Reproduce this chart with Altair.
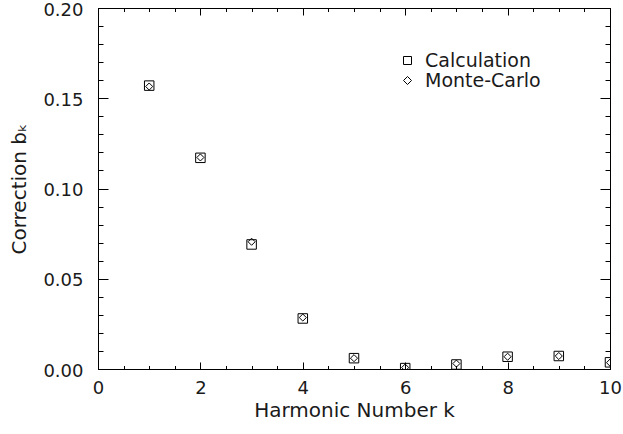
import altair as alt
import pandas as pd

# ---- data ----
k_values = [1, 2, 3, 4, 5, 6, 7, 8, 9, 10]
calc_values = [0.157, 0.117, 0.069, 0.028, 0.006, 0.0005, 0.0025, 0.0068, 0.0072, 0.0037]
mc_values = [0.1565, 0.1172, 0.0705, 0.0285, 0.006, 0.0008, 0.003, 0.0068, 0.0072, 0.0035]
series_names = ["Calculation", "Monte-Carlo"]

x_major = [0, 2, 4, 6, 8, 10]
x_minor = [i * 0.5 for i in range(21)]
y_major = [0.0, 0.05, 0.10, 0.15, 0.20]
y_minor = [i * 0.01 for i in range(21)]

calc_df = pd.DataFrame({"k": k_values, "b": calc_values, "series": series_names[0]})
mc_df = pd.DataFrame({"k": k_values, "b": mc_values, "series": series_names[1]})
all_df = pd.concat([calc_df, mc_df], ignore_index=True)

FONT = "DejaVu Sans"
FS = 18
TFS = 20
INK = "#000000"
TXT = "#1a1a1a"

xscale = alt.Scale(domain=[0, 10], nice=False, zero=False)
yscale = alt.Scale(domain=[0, 0.2], nice=False, zero=False)
shape_scale = alt.Scale(domain=series_names, range=["square", "diamond"])


def xaxis(orient, values, size, labels=False, title=None):
    kw = dict(orient=orient, values=values, tickSize=size, offset=-size, domain=False,
              grid=False, tickColor=INK, tickWidth=1, labels=labels)
    if labels:
        kw.update(labelFont=FONT, labelFontSize=FS, labelColor=TXT, labelPadding=10,
                  labelFlush=False, format="d", labelOverlap=False)
    if title:
        kw.update(title=title, titleFont=FONT, titleFontSize=TFS, titleFontWeight="normal",
                  titleColor=TXT, titlePadding=3)
    else:
        kw.update(title=None)
    return alt.Axis(**kw)


def yaxis(orient, values, size, labels=False, title=None):
    kw = dict(orient=orient, values=values, tickSize=size, offset=-size, domain=False,
              grid=False, tickColor=INK, tickWidth=1, labels=labels)
    if labels:
        kw.update(labelFont=FONT, labelFontSize=FS, labelColor=TXT, labelPadding=15,
                  labelFlush=False, format=".2f", labelOverlap=False, labelOffset=2)
    if title:
        kw.update(title=title, titleFont=FONT, titleFontSize=TFS, titleFontWeight="normal",
                  titleColor=TXT, titlePadding=13)
    else:
        kw.update(title=None)
    return alt.Axis(**kw)


legend = alt.Legend(
    title=None, orient="none", legendX=300, legendY=43,
    labelFont=FONT, labelFontSize=19, labelColor=TXT, labelOffset=8,
    symbolSize=64, symbolStrokeColor=INK, symbolStrokeWidth=1,
    symbolFillColor="transparent", rowPadding=0,
)

calc_layer = alt.Chart(calc_df).mark_point(
    filled=False, size=90, strokeWidth=1, color=INK, opacity=1, clip=True
).encode(
    x=alt.X("k:Q", scale=xscale, axis=xaxis("bottom", x_major, 7, labels=True, title="Harmonic Number k")),
    y=alt.Y("b:Q", scale=yscale, axis=yaxis("left", y_major, 10, labels=True, title="Correction bₖ")),
    shape=alt.Shape("series:N", scale=shape_scale, legend=legend),
)

mc_layer = alt.Chart(mc_df).mark_point(
    filled=False, size=50, strokeWidth=1, color=INK, opacity=1, clip=True
).encode(
    x=alt.X("k:Q", scale=xscale, axis=xaxis("bottom", x_minor, 3.5)),
    y=alt.Y("b:Q", scale=yscale, axis=yaxis("left", y_minor, 5)),
    shape=alt.Shape("series:N", scale=shape_scale, legend=legend),
)

top_major = alt.Chart(all_df).mark_point(opacity=0, clip=True).encode(
    x=alt.X("k:Q", scale=xscale, axis=xaxis("top", x_major, 7)),
    y=alt.Y("b:Q", scale=yscale, axis=yaxis("right", y_major, 10)),
)

top_minor = alt.Chart(all_df).mark_point(opacity=0, clip=True).encode(
    x=alt.X("k:Q", scale=xscale, axis=xaxis("top", x_minor, 3.5)),
    y=alt.Y("b:Q", scale=yscale, axis=yaxis("right", y_minor, 5)),
)

chart = alt.layer(calc_layer, mc_layer, top_major, top_minor).resolve_axis(
    x="independent", y="independent"
).properties(
    width=512, height=361,
    autosize=alt.AutoSizeParams(type="none"),
    padding={"left": 98, "top": 8, "right": 13, "bottom": 65},
    background="white",
).configure_view(
    stroke=INK, strokeWidth=1
)

chart.save("out.html", embed_options={"renderer": "svg", "actions": False})
